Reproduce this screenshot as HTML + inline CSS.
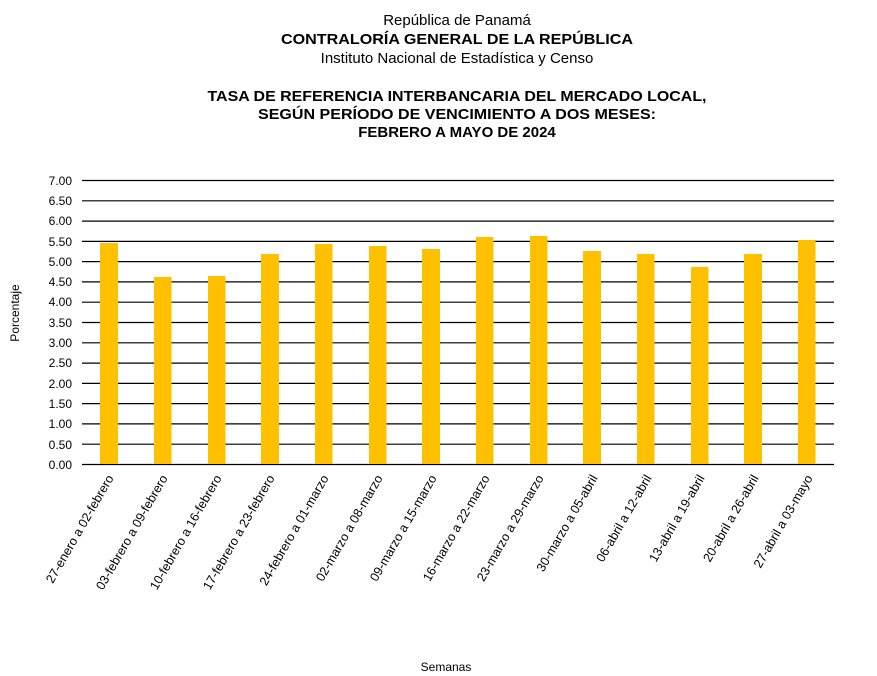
<!DOCTYPE html>
<html><head><meta charset="utf-8"><style>body{margin:0;background:#fff}svg{display:block}</style></head>
<body>
<svg width="877" height="676" xmlns="http://www.w3.org/2000/svg" font-family="Liberation Sans, Arial, sans-serif">
<g text-anchor="middle" fill="#000">
<text x="457" y="25" font-size="15">República de Panamá</text>
<text x="457" y="44" font-size="15" font-weight="bold" textLength="352" lengthAdjust="spacingAndGlyphs">CONTRALORÍA GENERAL DE LA REPÚBLICA</text>
<text x="457" y="63" font-size="15">Instituto Nacional de Estadística y Censo</text>
<text x="457" y="101" font-size="15" font-weight="bold" textLength="499" lengthAdjust="spacingAndGlyphs">TASA DE REFERENCIA INTERBANCARIA DEL MERCADO LOCAL,</text>
<text x="457" y="119" font-size="15" font-weight="bold" textLength="398" lengthAdjust="spacingAndGlyphs">SEGÚN PERÍODO DE VENCIMIENTO A DOS MESES:</text>
<text x="457" y="137" font-size="15" font-weight="bold">FEBRERO A MAYO DE 2024</text>
</g>
<g stroke="#000" stroke-width="1.2">
<line x1="82" x2="834" y1="180.5" y2="180.5"/><line x1="82" x2="834" y1="200.8" y2="200.8"/>
<line x1="82" x2="834" y1="221.1" y2="221.1"/><line x1="82" x2="834" y1="241.4" y2="241.4"/>
<line x1="82" x2="834" y1="261.6" y2="261.6"/><line x1="82" x2="834" y1="281.9" y2="281.9"/>
<line x1="82" x2="834" y1="302.2" y2="302.2"/><line x1="82" x2="834" y1="322.5" y2="322.5"/>
<line x1="82" x2="834" y1="342.8" y2="342.8"/><line x1="82" x2="834" y1="363.1" y2="363.1"/>
<line x1="82" x2="834" y1="383.4" y2="383.4"/><line x1="82" x2="834" y1="403.6" y2="403.6"/>
<line x1="82" x2="834" y1="423.9" y2="423.9"/><line x1="82" x2="834" y1="444.2" y2="444.2"/>
<line x1="82" x2="834" y1="464.5" y2="464.5"/>
</g>
<g font-size="12" text-anchor="end">
<text x="72" y="185">7.00</text><text x="72" y="205">6.50</text><text x="72" y="225">6.00</text>
<text x="72" y="246">5.50</text><text x="72" y="266">5.00</text><text x="72" y="286">4.50</text>
<text x="72" y="306">4.00</text><text x="72" y="327">3.50</text><text x="72" y="347">3.00</text>
<text x="72" y="367">2.50</text><text x="72" y="388">2.00</text><text x="72" y="408">1.50</text>
<text x="72" y="428">1.00</text><text x="72" y="449">0.50</text><text x="72" y="469">0.00</text>
</g>
<g fill="#FFC000">
<rect x="100" y="243" width="18" height="221"/>
<rect x="154" y="277" width="17.5" height="187"/>
<rect x="208" y="276" width="17.5" height="188"/>
<rect x="261" y="254" width="18" height="210"/>
<rect x="315" y="244" width="17.5" height="220"/>
<rect x="369" y="246" width="17.5" height="218"/>
<rect x="422" y="249" width="18" height="215"/>
<rect x="476" y="237" width="17.5" height="227"/>
<rect x="530" y="236" width="17.5" height="228"/>
<rect x="583" y="251" width="18" height="213"/>
<rect x="637" y="254" width="17.5" height="210"/>
<rect x="691" y="267" width="17.5" height="197"/>
<rect x="744" y="254" width="18" height="210"/>
<rect x="798" y="240" width="17.5" height="224"/>
</g>
<g font-size="12.6" text-anchor="end">
<text transform="translate(114,478) rotate(-60)">27-enero a 02-febrero</text>
<text transform="translate(168,478) rotate(-60)">03-febrero a 09-febrero</text>
<text transform="translate(222,478) rotate(-60)">10-febrero a 16-febrero</text>
<text transform="translate(275,478) rotate(-60)">17-febrero a 23-febrero</text>
<text transform="translate(329,478) rotate(-60)">24-febrero a 01-marzo</text>
<text transform="translate(383,478) rotate(-60)">02-marzo a 08-marzo</text>
<text transform="translate(437,478) rotate(-60)">09-marzo a 15-marzo</text>
<text transform="translate(490,478) rotate(-60)">16-marzo a 22-marzo</text>
<text transform="translate(544,478) rotate(-60)">23-marzo a 29-marzo</text>
<text transform="translate(598,478) rotate(-60)">30-marzo a 05-abril</text>
<text transform="translate(652,478) rotate(-60)">06-abril a 12-abril</text>
<text transform="translate(705,478) rotate(-60)">13-abril a 19-abril</text>
<text transform="translate(759,478) rotate(-60)">20-abril a 26-abril</text>
<text transform="translate(813,478) rotate(-60)">27-abril a 03-mayo</text>
</g>
<text x="446" y="671" font-size="12" text-anchor="middle">Semanas</text>
<text transform="translate(19,313) rotate(-90)" font-size="12" text-anchor="middle">Porcentaje</text>
</svg>
</body></html>
